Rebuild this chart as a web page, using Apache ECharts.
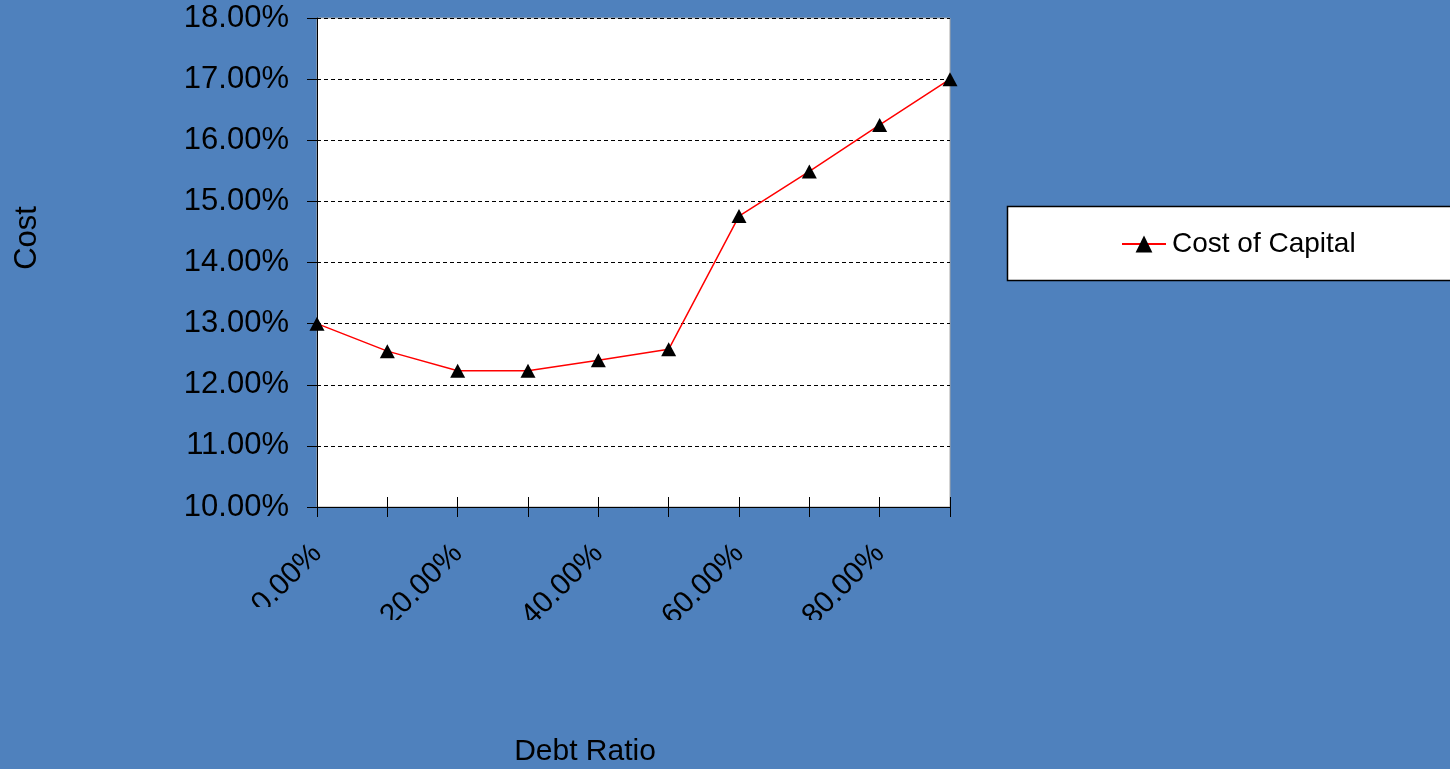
<!DOCTYPE html>
<html>
<head>
<meta charset="utf-8">
<script src="https://cdn.jsdelivr.net/npm/echarts@6/dist/echarts.min.js"></script>
<style>
  html, body { margin: 0; padding: 0; background: #4F81BD; }
  #chart { width: 1450px; height: 769px; }
</style>
</head>
<body>
<div id="chart"></div>
<script>
// Debt ratio steps (category axis) and the resulting cost of capital (%)
const debtRatios = ['0.00%', '10.00%', '20.00%', '30.00%', '40.00%', '50.00%', '60.00%', '70.00%', '80.00%', '90.00%'];
const costOfCapital = [13.00, 12.55, 12.23, 12.23, 12.40, 12.58, 14.76, 15.49, 16.25, 17.00];
const seriesName = 'Cost of Capital';
const xTitle = 'Debt Ratio';
const yTitle = 'Cost';

const BG = '#4F81BD';
const FONT = '"Liberation Sans", Arial, sans-serif';

const chart = echarts.init(document.getElementById('chart'), null, { renderer: 'canvas' });

chart.setOption({
  backgroundColor: BG,
  animation: false,
  textStyle: { fontFamily: FONT, color: '#000' },
  grid: {
    left: 317, right: 500, top: 18, height: 489,
    show: true, backgroundColor: '#fff', borderColor: '#a6a6a6', borderWidth: 1
  },
  legend: {
    left: 1121, top: 230, padding: 0,
    itemWidth: 44, itemHeight: 21, itemGap: 0,
    textStyle: { fontFamily: FONT, fontSize: 28, color: '#000', padding: [3, 0, 0, 1] },
    data: [seriesName]
  },
  xAxis: [
    {
      type: 'category', data: debtRatios, boundaryGap: false,
      axisLine: { lineStyle: { color: '#000', width: 1 } },
      axisTick: { show: true, inside: false, length: 10, interval: 0, lineStyle: { color: '#000' } },
      axisLabel: {
        interval: 1, rotate: 45, margin: 42,
        fontFamily: FONT, fontSize: 30, color: '#000'
      },
      splitLine: { show: false }
    },
    {
      // inner half of the crossing tick marks
      type: 'category', data: debtRatios, boundaryGap: false, position: 'bottom',
      axisLine: { show: false },
      axisTick: { show: true, inside: true, length: 10, interval: 0, lineStyle: { color: '#000' } },
      axisLabel: { show: false },
      splitLine: { show: false }
    }
  ],
  yAxis: {
    type: 'value', min: 10, max: 18, interval: 1,
    axisLine: { show: true, lineStyle: { color: '#000', width: 1 } },
    axisTick: { show: true, inside: false, length: 10, lineStyle: { color: '#000' } },
    axisLabel: {
      margin: 28, fontFamily: FONT, fontSize: 31, color: '#000', padding: [5, 0, 0, 0],
      formatter: v => v.toFixed(2) + '%'
    },
    splitLine: { show: true, lineStyle: { color: '#000', width: 1, type: [4, 3] } }
  },
  graphic: [
    // legend frame
    {
      type: 'rect', z: 1,
      shape: { x: 1007.5, y: 206.5, width: 460, height: 74 },
      style: { fill: '#fff', stroke: '#000', lineWidth: 1.5 }
    },
    // rotated category labels are cut off below the label band
    {
      type: 'rect', z: 100,
      shape: { x: 220, y: 620, width: 760, height: 90 },
      style: { fill: BG }
    },
    {
      type: 'rect', z: 100,
      shape: { x: 220, y: 607, width: 90, height: 14 },
      style: { fill: BG }
    },
    // axis titles
    {
      type: 'text', z: 101, x: 27, y: 238, rotation: Math.PI / 2,
      style: { text: yTitle, fontFamily: FONT, fontSize: 31, fill: '#000', align: 'center', verticalAlign: 'middle' }
    },
    {
      type: 'text', z: 101, x: 585, y: 752,
      style: { text: xTitle, fontFamily: FONT, fontSize: 30, fill: '#000', align: 'center', verticalAlign: 'middle' }
    }
  ],
  series: [{
    name: seriesName, type: 'line', data: costOfCapital,
    symbol: 'triangle', symbolSize: [15, 14],
    itemStyle: { color: '#000' },
    lineStyle: { color: '#ff0000', width: 1.5 },
    z: 5
  }]
});
</script>
</body>
</html>
